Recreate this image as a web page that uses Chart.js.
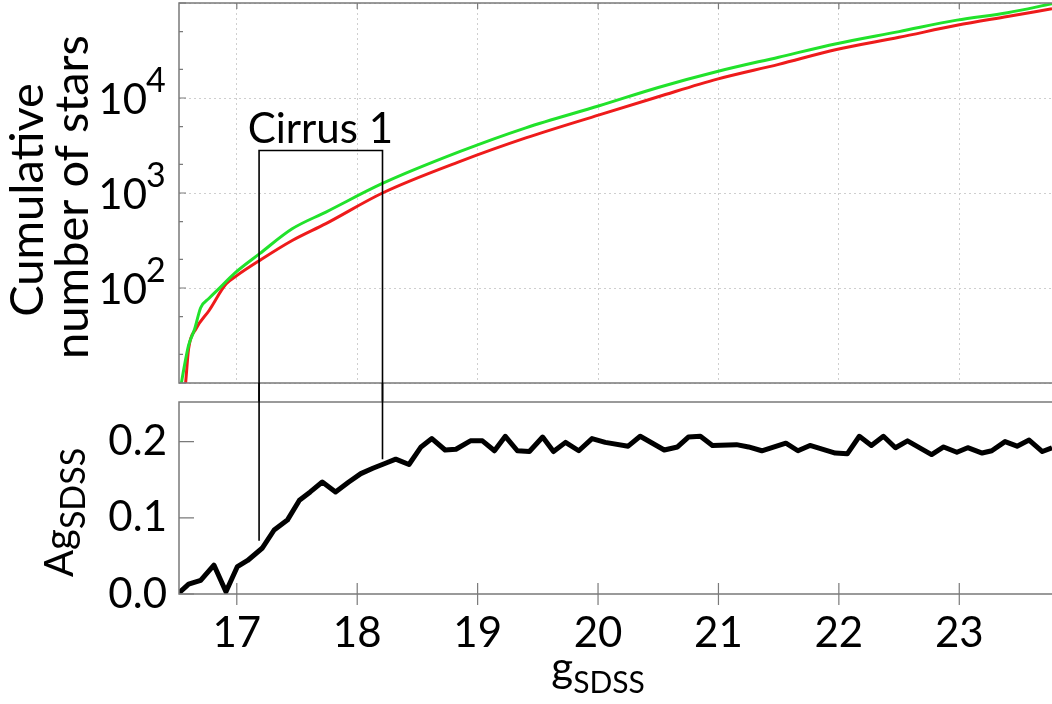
<!DOCTYPE html>
<html>
<head>
<meta charset="utf-8">
<script src="https://cdn.jsdelivr.net/npm/chart.js@4/dist/chart.umd.min.js"></script>
<style>
  body { margin: 0; background: #fff; }
  #wrap { position: relative; width: 1052px; height: 704px; overflow: hidden; }
  #topChart { position: absolute; left: 0; top: 0; }
  #botChart { position: absolute; left: 0; top: 383px; }
</style>
</head>
<body>
<div id="wrap">
  <canvas id="topChart" width="1052" height="402"></canvas>
  <canvas id="botChart" width="1052" height="321"></canvas>
</div>
<script>
// magnitude axis
const xMin = 16.52;
const xMax = 23.77;
const xTicks = [17, 18, 19, 20, 21, 22, 23];

// cumulative counts (top panel)
const greenG = [16.54, 16.56, 16.60, 16.65, 16.70, 16.77, 16.85, 16.99, 17.19, 17.46, 17.74, 18.21, 18.85, 19.40, 20.01, 20.50, 20.99, 21.50, 21.98, 22.50, 22.98, 23.40, 23.77];
const greenN = [10, 14, 25, 37, 62, 78, 98, 146, 230, 420, 630, 1260, 2720, 4850, 8280, 12900, 19000, 26900, 37300, 50000, 66000, 79000, 98000];
const redG = [16.575, 16.60, 16.66, 16.77, 16.91, 17.00, 17.19, 17.46, 17.74, 18.21, 18.85, 19.40, 20.01, 20.50, 20.99, 21.50, 21.98, 22.50, 22.98, 23.40, 23.77];
const redN = [10, 23, 37, 58, 110, 135, 195, 316, 476, 1000, 2140, 3800, 6650, 10300, 15800, 22600, 32400, 43500, 58200, 72100, 87000];
const countTicks = [10, 20, 50, 100, 200, 500, 1000, 2000, 5000, 10000, 20000, 50000, 100000];
const decadeLabels = [2, 3, 4];

// extinction (bottom panel)
const agG = [16.51, 16.60, 16.70, 16.81, 16.91, 17.005, 17.09, 17.21, 17.31, 17.42, 17.52, 17.61, 17.71, 17.82, 17.93, 18.03, 18.13, 18.24, 18.32, 18.43, 18.53, 18.62, 18.73, 18.82, 18.94, 19.04, 19.14, 19.23, 19.33, 19.43, 19.54, 19.63, 19.73, 19.84, 19.95, 20.06, 20.25, 20.35, 20.55, 20.66, 20.75, 20.85, 20.95, 21.15, 21.25, 21.36, 21.56, 21.66, 21.76, 21.97, 22.07, 22.17, 22.27, 22.37, 22.47, 22.57, 22.77, 22.87, 22.98, 23.07, 23.19, 23.27, 23.38, 23.48, 23.58, 23.69, 23.77];
const agV = [0.000, 0.013, 0.018, 0.038, 0.003, 0.036, 0.044, 0.060, 0.084, 0.097, 0.123, 0.134, 0.147, 0.134, 0.147, 0.158, 0.165, 0.172, 0.177, 0.170, 0.193, 0.204, 0.189, 0.190, 0.201, 0.201, 0.188, 0.207, 0.188, 0.187, 0.206, 0.187, 0.199, 0.188, 0.204, 0.199, 0.194, 0.207, 0.189, 0.193, 0.206, 0.207, 0.195, 0.196, 0.193, 0.188, 0.198, 0.188, 0.195, 0.185, 0.184, 0.207, 0.195, 0.207, 0.192, 0.201, 0.183, 0.193, 0.186, 0.192, 0.185, 0.188, 0.200, 0.194, 0.202, 0.187, 0.192];
const agTicks = [0, 0.05, 0.1, 0.15, 0.2];
const agMax = 0.252;

// Cirrus 1 box
const cirrusG = [17.185, 18.21];
const cirrusTopN = 2800;
const cirrusEndAg = [0.07, 0.177];
const cirrusLabelG = 17.09;
const cirrusLabelN = 3370;

const FONT = "Lato, 'Open Sans', sans-serif";
const FRAME = "#7a7a7a";
Chart.defaults.font.family = FONT;

const toPoints = (xs, ys) => xs.map((x, i) => ({ x: x, y: ys[i] }));
const isDecade = (v) => Math.abs(Math.log10(v) - Math.round(Math.log10(v))) < 1e-9;
const noPad = (s) => { s.paddingTop = 0; s.paddingBottom = 0; s.paddingLeft = 0; s.paddingRight = 0; };

// frame + inward ticks
const framePlugin = {
  id: "frame",
  afterDatasetsDraw(chart) {
    const { ctx, chartArea: a } = chart;
    const top = chart.canvas.id === "topChart";
    ctx.save();
    ctx.strokeStyle = FRAME;
    ctx.lineWidth = 1.5;
    ctx.beginPath();
    ctx.moveTo(a.right + 2, a.top);
    ctx.lineTo(a.left, a.top);
    ctx.lineTo(a.left, a.bottom);
    ctx.lineTo(a.right + 2, a.bottom);
    ctx.stroke();

    ctx.lineWidth = 1.2;
    ctx.beginPath();
    const xs = chart.scales.x;
    const ys = chart.scales.y;
    ys.ticks.forEach((t) => {
      const py = ys.getPixelForValue(t.value);
      const len = top ? (isDecade(t.value) ? 7 : 4) : 15;
      ctx.moveTo(a.left, py);
      ctx.lineTo(a.left + len, py);
    });
    xs.ticks.forEach((t) => {
      const px = xs.getPixelForValue(t.value);
      if (top) {
        ctx.moveTo(px, a.top);
        ctx.lineTo(px, a.top + 6);
      } else {
        ctx.moveTo(px, a.bottom - 11);
        ctx.lineTo(px, a.bottom + 11);
      }
    });
    ctx.stroke();
    ctx.restore();
  },
};

const topText = {
  id: "topText",
  afterDraw(chart) {
    const { ctx } = chart;
    const xs = chart.scales.x;
    const ys = chart.scales.y;
    ctx.save();
    ctx.fillStyle = "#000";
    decadeLabels.forEach((d) => {
      const py = ys.getPixelForValue(Math.pow(10, d));
      ctx.font = "42px " + FONT;
      ctx.textAlign = "right";
      ctx.textBaseline = "alphabetic";
      ctx.fillText("10", 147, py + 16);
      ctx.font = "34px " + FONT;
      ctx.textAlign = "left";
      ctx.fillText(String(d), 146, py - 6);
    });

    // axis title
    ctx.font = "47px " + FONT;
    ctx.textAlign = "center";
    [["Cumulative", 43, 200], ["number of stars", 88, 197]].forEach(([s, x, y]) => {
      ctx.save();
      ctx.translate(x, y);
      ctx.rotate(-Math.PI / 2);
      ctx.fillText(s, 0, 0);
      ctx.restore();
    });

    // Cirrus 1 box (upper part)
    const xl = xs.getPixelForValue(cirrusG[0]);
    const xr = xs.getPixelForValue(cirrusG[1]);
    const yt = ys.getPixelForValue(cirrusTopN);
    ctx.strokeStyle = "#000";
    ctx.lineWidth = 1.6;
    ctx.beginPath();
    ctx.moveTo(xl, chart.height);
    ctx.lineTo(xl, yt);
    ctx.lineTo(xr, yt);
    ctx.lineTo(xr, chart.height);
    ctx.stroke();
    ctx.font = "42px " + FONT;
    ctx.textAlign = "left";
    ctx.fillText("Cirrus 1", xs.getPixelForValue(cirrusLabelG), ys.getPixelForValue(cirrusLabelN));
    ctx.restore();
  },
};

const botText = {
  id: "botText",
  afterDraw(chart) {
    const { ctx } = chart;
    const xs = chart.scales.x;
    const ys = chart.scales.y;
    ctx.save();
    ctx.fillStyle = "#000";
    ctx.strokeStyle = "#000";
    ctx.lineWidth = 1.6;
    ctx.beginPath();
    cirrusG.forEach((g, i) => {
      const px = xs.getPixelForValue(g);
      ctx.moveTo(px, 0);
      ctx.lineTo(px, ys.getPixelForValue(cirrusEndAg[i]));
    });
    ctx.stroke();

    // x title g_SDSS
    ctx.textBaseline = "alphabetic";
    ctx.textAlign = "left";
    ctx.font = "42px " + FONT;
    const gw = ctx.measureText("g").width;
    ctx.font = "30px " + FONT;
    const sw = ctx.measureText("SDSS").width;
    const x0 = xs.getPixelForValue(20) - (gw + sw) / 2;
    ctx.font = "42px " + FONT;
    ctx.fillText("g", x0, 299);
    ctx.font = "30px " + FONT;
    ctx.fillText("SDSS", x0 + gw, 310);

    // y title Ag_SDSS
    ctx.save();
    ctx.translate(73, 194);
    ctx.rotate(-Math.PI / 2);
    ctx.font = "40px " + FONT;
    ctx.fillText("Ag", 0, 0);
    const aw = ctx.measureText("Ag").width;
    ctx.font = "34px " + FONT;
    ctx.fillText("SDSS", aw, 12);
    ctx.restore();
    ctx.restore();
  },
};

new Chart(document.getElementById("topChart"), {
  type: "line",
  data: {
    datasets: [
      {
        label: "green",
        data: toPoints(greenG, greenN),
        borderColor: "#21e22b",
        borderWidth: 3,
        pointRadius: 0,
        cubicInterpolationMode: "monotone",
      },
      {
        label: "red",
        data: toPoints(redG, redN),
        borderColor: "#ee1b1b",
        borderWidth: 3,
        pointRadius: 0,
        cubicInterpolationMode: "monotone",
      },
    ],
  },
  options: {
    responsive: false,
    animation: false,
    events: [],
    layout: { padding: { top: 3, right: 0, bottom: 19, left: 0 } },
    plugins: { legend: { display: false }, tooltip: { enabled: false } },
    scales: {
      x: {
        type: "linear",
        min: xMin,
        max: xMax,
        afterBuildTicks: (s) => { s.ticks = xTicks.map((v) => ({ value: v })); },
        afterFit: (s) => { s.height = 0; noPad(s); },
        ticks: { display: false },
        grid: { color: "#cfcfcf", lineWidth: 1, drawTicks: false },
        border: { display: false, dash: [2, 3] },
      },
      y: {
        type: "logarithmic",
        min: 10,
        max: 100000,
        afterBuildTicks: (s) => { s.ticks = countTicks.map((v) => ({ value: v })); },
        afterFit: (s) => { s.width = 179; noPad(s); },
        ticks: { display: false },
        grid: {
          color: (c) => (c.tick && isDecade(c.tick.value) ? "#cfcfcf" : "rgba(0,0,0,0)"),
          lineWidth: 1,
          drawTicks: false,
        },
        border: { display: false, dash: [2, 3] },
      },
    },
  },
  plugins: [framePlugin, topText],
});

new Chart(document.getElementById("botChart"), {
  type: "line",
  data: {
    datasets: [
      {
        label: "Ag",
        data: toPoints(agG, agV),
        borderColor: "#000",
        borderWidth: 5,
        borderJoinStyle: "round",
        pointRadius: 0,
        tension: 0,
      },
    ],
  },
  options: {
    responsive: false,
    animation: false,
    events: [],
    layout: { padding: { top: 19, right: 0, bottom: 0, left: 0 } },
    plugins: { legend: { display: false }, tooltip: { enabled: false } },
    scales: {
      x: {
        type: "linear",
        min: xMin,
        max: xMax,
        afterBuildTicks: (s) => { s.ticks = xTicks.map((v) => ({ value: v })); },
        afterFit: (s) => { s.height = 110; noPad(s); },
        ticks: { color: "#000", font: { size: 42 }, padding: 14, maxRotation: 0, autoSkip: false, callback: (v) => String(v) },
        grid: { display: false, drawTicks: false },
        border: { display: false },
      },
      y: {
        type: "linear",
        min: 0,
        max: agMax,
        afterBuildTicks: (s) => { s.ticks = agTicks.map((v) => ({ value: v })); },
        afterFit: (s) => { s.width = 179; noPad(s); },
        ticks: {
          color: "#000",
          font: { size: 42 },
          padding: 12,
          callback: (v) => (Math.abs(v * 10 - Math.round(v * 10)) < 1e-6 ? v.toFixed(1) : ""),
        },
        grid: { display: false, drawTicks: false },
        border: { display: false },
      },
    },
  },
  plugins: [framePlugin, botText],
});
</script>
</body>
</html>
